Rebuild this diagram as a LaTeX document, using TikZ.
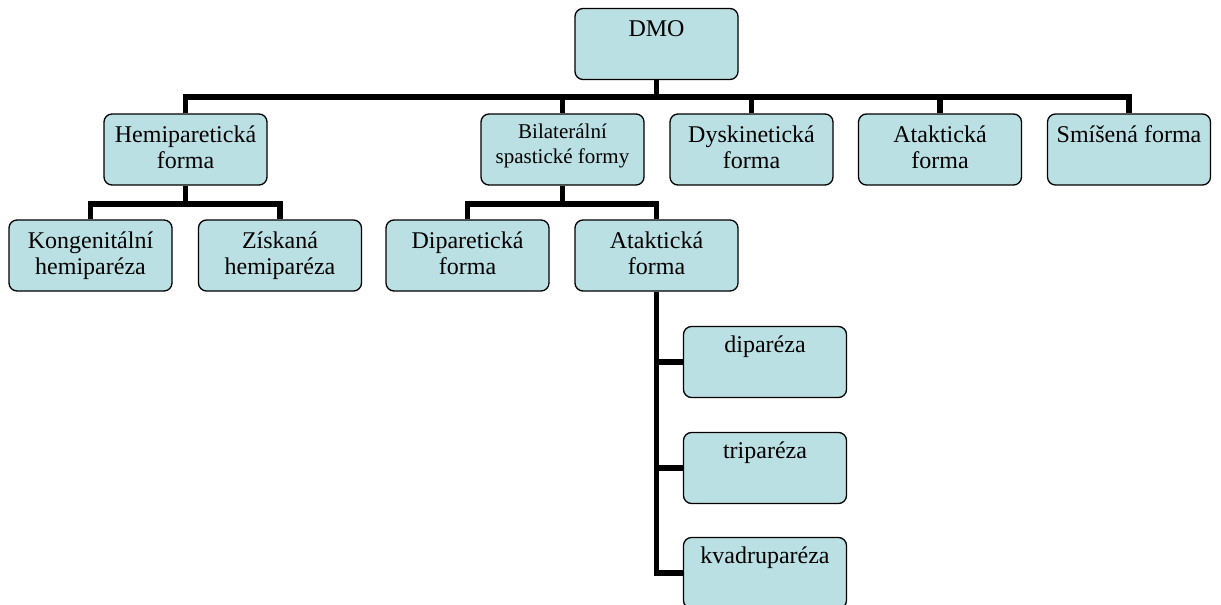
\documentclass[tikz,border=0pt]{standalone}
\usepackage{fontspec}
\setmainfont{Liberation Serif}
\definecolor{boxfill}{RGB}{187,224,228}
\newcommand{\bt}[2][28pt]{\parbox[c][71pt][t]{161pt}{\centering\rule{0pt}{#1}#2\par}}
\begin{document}
\begin{tikzpicture}[x=1pt,y=-1pt,
  box/.style={draw=black, line width=1.3pt, fill=boxfill, rounded corners=8pt,
    minimum width=163pt, minimum height=71pt, inner sep=0pt,
    font=\fontsize{24}{26}\selectfont},
  smallbox/.style={box, font=\fontsize{21}{25}\selectfont},
  conn/.style={line width=5.5pt, line join=miter}]
\useasboundingbox[fill=white] (0,0) rectangle (1221,605);
% level 0
\node[box] (dmo) at (656.5,44) {\bt{DMO}};
% level 1
\node[box] (hemi) at (185.5,149.5) {\bt{Hemiparetická\\forma}};
\node[smallbox] (bil) at (562.5,149.5) {\bt[24pt]{Bilaterální\\spastické formy}};
\node[box] (dys) at (751.5,149.5) {\bt{Dyskinetická\\forma}};
\node[box] (atak) at (940,149.5) {\bt{Ataktická\\forma}};
\node[box] (smis) at (1129,149.5) {\bt{Smíšená forma}};
% level 2
\node[box] (kong) at (90.5,255.5) {\bt{Kongenitální\\hemiparéza}};
\node[box] (zisk) at (280,255.5) {\bt{Získaná\\hemiparéza}};
\node[box] (dipf) at (467.5,255.5) {\bt{Diparetická\\forma}};
\node[box] (atak2) at (656.5,255.5) {\bt{Ataktická\\forma}};
% level 3
\node[box] (dip) at (765,362) {\bt[26pt]{diparéza}};
\node[box] (trip) at (765,468) {\bt[26pt]{triparéza}};
\node[box] (kvad) at (765,573) {\bt[26pt]{kvadruparéza}};
% connectors
\coordinate (bar1) at (0,97);
\coordinate (bar2) at (0,204);
\draw[conn] (dmo.south) -- (dmo.south |- bar1);
\draw[conn] (hemi.north) -- (hemi.north |- bar1) -- (smis.north |- bar1) -- (smis.north);
\draw[conn] (bil.north) -- (bil.north |- bar1);
\draw[conn] (dys.north) -- (dys.north |- bar1);
\draw[conn] (atak.north) -- (atak.north |- bar1);
\draw[conn] (hemi.south) -- (hemi.south |- bar2);
\draw[conn] (kong.north) -- (kong.north |- bar2) -- (zisk.north |- bar2) -- (zisk.north);
\draw[conn] (bil.south) -- (bil.south |- bar2);
\draw[conn] (dipf.north) -- (dipf.north |- bar2) -- (atak2.north |- bar2) -- (atak2.north);
\draw[conn] (atak2.south) |- (kvad.west);
\draw[conn] (atak2.south |- dip.west) -- (dip.west);
\draw[conn] (atak2.south |- trip.west) -- (trip.west);
\end{tikzpicture}
\end{document}
